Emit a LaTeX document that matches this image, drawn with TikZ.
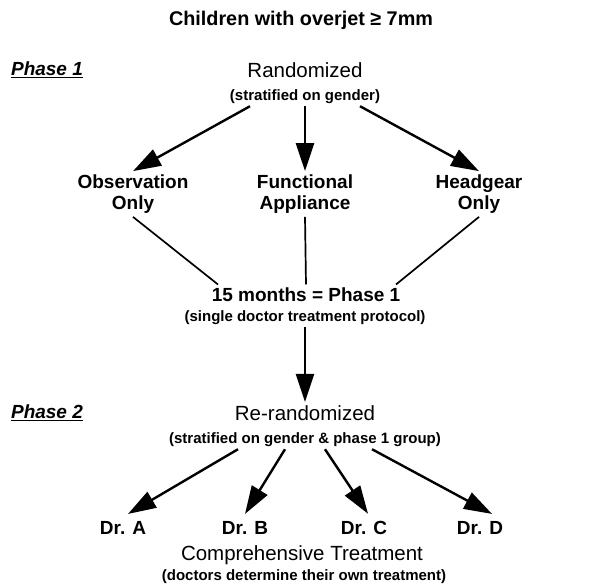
\documentclass[tikz,border=0pt]{standalone}
\usepackage{fontspec}
\setmainfont{Liberation Sans}
\usetikzlibrary{arrows.meta}

\begin{document}
\begin{tikzpicture}[x=1pt,y=-1pt,
        big/.style={font=\fontsize{19}{21}\selectfont\bfseries,align=center},
        plain/.style={font=\fontsize{20.5}{22}\selectfont,align=center},
        small/.style={font=\fontsize{15}{16}\selectfont\bfseries,inner sep=2pt},
        phase/.style={font=\fontsize{19}{21}\selectfont\bfseries\itshape},
        arr/.style={line width=2.4pt,-{Triangle[length=28pt,width=18pt]}},
        link/.style={line width=1.7pt}]

            \useasboundingbox (0,0) rectangle (600,586);

            \node[big,font=\fontsize{19.8}{21}\selectfont\bfseries] (title) at (301,20) {Children with overjet ≥ 7mm};

            % phase 1
            \node[phase] (ph1) at (47,70) {\underline{Phase 1}};
            \node[plain] (rand) at (305,70) {Randomized};
            \node[small] (randsub) at (305,97) {(stratified on gender)};

            \node[big] (obs) at (133,194) {Observation\\Only};
            \node[big] (func) at (305,194) {Functional\\Appliance};
            \node[big] (hg) at (479,194) {Headgear\\Only};

            \draw[arr] ([xshift=-55]randsub.south) -- (obs.north);
            \draw[arr] (randsub.south) -- (func.north);
            \draw[arr] ([xshift=55]randsub.south) -- (hg.north);

            \node[big] (months) at (306,295) {15 months = Phase 1};
            \node[small] (monthsub) at (305,318) {(single doctor treatment protocol)};

            \draw[link] (obs.south) -- ([xshift=-88]months.north);
            \draw[link] (func.south) -- (months.north);
            \draw[link] (hg.south) -- ([xshift=90]months.north);

            % phase 2
            \node[phase] (ph2) at (47,413) {\underline{Phase 2}};
            \node[plain] (rerand) at (305,413) {Re-randomized};
            \node[small] (rerandsub) at (305,440) {(stratified on gender \& phase 1 group)};

            \draw[arr] (monthsub.south) -- (rerand.north);

            \node[big] (dra) at (123,528) {Dr. A};
            \node[big] (drb) at (245,528) {Dr. B};
            \node[big] (drc) at (364,528) {Dr. C};
            \node[big] (drd) at (480,528) {Dr. D};

            \draw[arr] ([xshift=-67]rerandsub.south) -- ([xshift=5,yshift=4]dra.north);
            \draw[arr] ([xshift=-20]rerandsub.south) -- ([yshift=4]drb.north);
            \draw[arr] ([xshift=20]rerandsub.south) -- ([xshift=4,yshift=4]drc.north);
            \draw[arr] ([xshift=67]rerandsub.south) -- ([xshift=12,yshift=4]drd.north);

            \node[plain] (comp) at (302,555) {Comprehensive Treatment};
            \node[small] (compsub) at (304,577) {(doctors determine their own treatment)};

        \end{tikzpicture}
\end{document}
